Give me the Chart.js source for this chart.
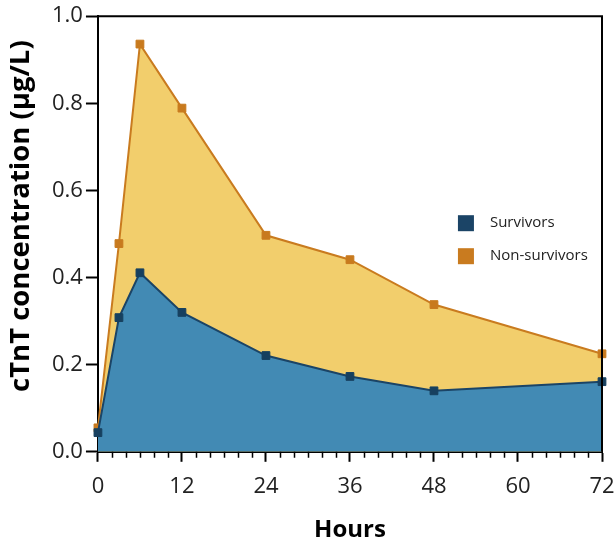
<!DOCTYPE html>
<html>
<head>
<meta charset="utf-8">
<script src="https://cdn.jsdelivr.net/npm/chart.js@4.4.0/dist/chart.umd.min.js"></script>
<style>
  html, body { margin: 0; padding: 0; background: #fff; }
  #wrap { width: 616px; height: 545px; }
</style>
</head>
<body>
<div id="wrap"><canvas id="myChart"></canvas></div>
<script>
const hours = [0, 3, 6, 12, 24, 36, 48, 72];
const survivors = [0.044, 0.308, 0.411, 0.320, 0.221, 0.173, 0.140, 0.161];
const nonSurvivors = [0.055, 0.478, 0.936, 0.789, 0.497, 0.441, 0.338, 0.225];
const seriesLabels = ['Survivors', 'Non-survivors'];

const FONT = "'Open Sans', 'Noto Sans', sans-serif";

const toPoints = (ys) => hours.map((h, i) => ({ x: h, y: ys[i] }));

// frame on top/right, minor x ticks, and the legend inside the plot
const extras = {
  id: 'extras',
  afterDraw(chart) {
    const { ctx, chartArea: a, scales } = chart;
    ctx.save();
    ctx.strokeStyle = '#000';
    ctx.lineWidth = 2;
    ctx.beginPath();
    ctx.moveTo(a.left, a.top);
    ctx.lineTo(a.right, a.top);
    ctx.lineTo(a.right, a.bottom);
    ctx.stroke();

    // minor ticks every 2 h
    ctx.lineWidth = 1.5;
    ctx.beginPath();
    for (let h = 2; h < 72; h += 2) {
      if (h % 12 === 0) continue;
      const px = Math.round(scales.x.getPixelForValue(h)) + 0.5;
      ctx.moveTo(px, a.bottom);
      ctx.lineTo(px, a.bottom + 6);
    }
    ctx.stroke();

    // legend
    const boxColors = ['#1B4466', '#C97B1F'];
    ctx.font = '15px ' + FONT;
    ctx.textBaseline = 'middle';
    chart.data.datasets.forEach((ds, i) => {
      const cy = a.top + 207 + i * 33;
      const bx = a.left + 360;
      ctx.fillStyle = boxColors[i];
      ctx.fillRect(bx, cy - 8, 16, 16);
      ctx.fillStyle = '#222';
      ctx.fillText(ds.label, bx + 32, cy);
    });
    ctx.restore();
  }
};

new Chart(document.getElementById('myChart'), {
  type: 'line',
  data: {
    datasets: [{
      label: seriesLabels[0],
      data: toPoints(survivors),
      borderColor: '#1B4466',
      backgroundColor: '#428AB4',
      borderWidth: 2,
      fill: 'origin',
      pointStyle: 'rect',
      pointRadius: 5.5,
      pointBackgroundColor: '#17405F',
      pointBorderColor: '#17405F',
      pointBorderWidth: 1,
      clip: 10,
    }, {
      label: seriesLabels[1],
      data: toPoints(nonSurvivors),
      borderColor: '#C97B1F',
      backgroundColor: '#F2CE6C',
      borderWidth: 2,
      fill: 'origin',
      pointStyle: 'rect',
      pointRadius: 5.5,
      pointBackgroundColor: '#C87A1E',
      pointBorderColor: '#C87A1E',
      pointBorderWidth: 1,
      clip: 10,
    }]
  },
  options: {
    animation: false,
    responsive: true,
    maintainAspectRatio: false,
    layout: { padding: { left: 5, right: 0, top: 6, bottom: 0 } },
    elements: { line: { tension: 0 } },
    plugins: {
      legend: { display: false },
      tooltip: { enabled: false },
    },
    scales: {
      x: {
        type: 'linear',
        min: 0,
        max: 72,
        border: { color: '#000', width: 2 },
        grid: { drawOnChartArea: false, tickLength: 10, tickColor: '#000', tickWidth: 2 },
        ticks: { stepSize: 12, color: '#222', padding: 12, font: { family: FONT, size: 22 } },
        title: {
          display: true,
          text: 'Hours',
          color: '#000',
          padding: { top: 4, bottom: 0 },
          font: { family: FONT, size: 24, weight: 'bold' },
        },
        afterFit: (scale) => { scale.paddingRight = 14; },
      },
      y: {
        min: 0,
        max: 1,
        border: { color: '#000', width: 2 },
        grid: { drawOnChartArea: false, tickLength: 12, tickColor: '#000', tickWidth: 2 },
        ticks: {
          stepSize: 0.2,
          color: '#222',
          padding: 3,
          font: { family: FONT, size: 22 },
          callback: (v) => v.toFixed(1),
        },
        title: {
          display: true,
          // leading spaces lift the rotated title a little, as in the original
          text: '     cTnT concentration (μg/L)',
          color: '#000',
          padding: { top: 0, bottom: 11 },
          font: { family: FONT, size: 27.5, weight: 'bold' },
        },
      }
    }
  },
  plugins: [extras]
});
</script>
</body>
</html>
